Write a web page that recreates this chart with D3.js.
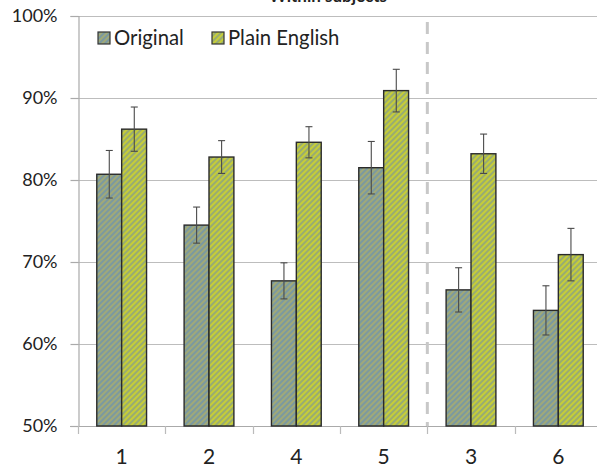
<!DOCTYPE html>
<html>
<head>
<meta charset="utf-8">
<script src="https://cdn.jsdelivr.net/npm/d3@7"></script>
<style>
  html, body { margin: 0; padding: 0; background: #fff; }
  svg { display: block; font-family: Lato, "Open Sans", sans-serif; }
</style>
</head>
<body>
<div id="chart"></div>
<script>
// Comprehension scores per passage, original vs. plain-English wording
const categories = ["1", "2", "4", "5", "3", "6"];
const seriesNames = ["Original", "Plain English"];
const originalValues = [80.7, 74.5, 67.7, 81.5, 66.6, 64.1];
const plainValues = [86.2, 82.8, 84.6, 90.9, 83.2, 70.9];
const originalErrors = [2.9, 2.2, 2.2, 3.2, 2.7, 3.0];
const plainErrors = [2.7, 2.0, 1.9, 2.6, 2.4, 3.2];
const yTicks = [50, 60, 70, 80, 90, 100];
const separatorAfter = "5";
const title = "Within subjects";

const W = 597, H = 468;
const margin = { left: 78, right: -5, top: 16, bottom: 42 };

const svg = d3.select("#chart").append("svg")
  .attr("width", W).attr("height", H);

// Diagonal hatch fills
const defs = svg.append("defs");
const fills = [
  { id: "hatch-orig", a: "#7b99a0", b: "#a0a978" },
  { id: "hatch-plain", a: "#c6cd38", b: "#98ac72" }
];
fills.forEach(f => {
  const p = defs.append("pattern")
    .attr("id", f.id)
    .attr("patternUnits", "userSpaceOnUse")
    .attr("width", 4).attr("height", 4)
    .attr("patternTransform", "rotate(45)");
  p.append("rect").attr("width", 2).attr("height", 4).attr("fill", f.a);
  p.append("rect").attr("x", 2).attr("width", 2).attr("height", 4).attr("fill", f.b);
});

const x = d3.scaleBand()
  .domain(categories)
  .range([margin.left, W - margin.right])
  .paddingInner(0.43)
  .paddingOuter(0.215);

const xs = d3.scaleBand()
  .domain(seriesNames)
  .range([0, x.bandwidth()]);

const y = d3.scaleLinear()
  .domain([50, 100])
  .range([H - margin.bottom, margin.top]);

// Title (sits at the very top edge)
svg.append("text")
  .attr("x", 328).attr("y", 1.5)
  .attr("text-anchor", "middle")
  .attr("font-size", 17)
  .attr("font-weight", "bold")
  .attr("fill", "#222")
  .text(title);

// Gridlines
svg.append("g")
  .selectAll("line")
  .data(yTicks.filter(t => t > 50))
  .join("line")
  .attr("x1", margin.left).attr("x2", W)
  .attr("y1", d => Math.round(y(d)) + 0.5)
  .attr("y2", d => Math.round(y(d)) + 0.5)
  .attr("stroke", "#bdbdbd").attr("stroke-width", 1.2);

// Y axis
const yAxis = d3.axisLeft(y)
  .tickValues(yTicks)
  .tickFormat(d => d + "%")
  .tickSize(8)
  .tickPadding(13);
const gy = svg.append("g")
  .attr("transform", `translate(${margin.left + 0.5},0)`)
  .call(yAxis);
gy.select(".domain").attr("stroke", "#aaa").attr("stroke-width", 1.2);
gy.selectAll(".tick line").attr("stroke", "#aaa").attr("stroke-width", 1.2);
gy.selectAll(".tick text")
  .attr("font-size", 18)
  .attr("fill", "#222")
  .attr("font-family", "Lato, sans-serif");

// X axis baseline and boundary ticks
const step = x.step();
const boundaries = categories.map(c => x(c) - step * x.paddingInner() / 2);
svg.append("line")
  .attr("x1", 70).attr("x2", W)
  .attr("y1", y(50) + 0.5).attr("y2", y(50) + 0.5)
  .attr("stroke", "#aaa").attr("stroke-width", 1.2);
svg.append("g")
  .selectAll("line")
  .data(boundaries)
  .join("line")
  .attr("x1", d => Math.round(d) + 0.5).attr("x2", d => Math.round(d) + 0.5)
  .attr("y1", y(50)).attr("y2", y(50) + 8)
  .attr("stroke", "#bbb").attr("stroke-width", 1.2);

// Category labels
svg.append("g")
  .selectAll("text")
  .data(categories)
  .join("text")
  .attr("x", d => x(d) + x.bandwidth() / 2)
  .attr("y", 464)
  .attr("text-anchor", "middle")
  .attr("font-size", 21)
  .attr("fill", "#222")
  .text(d => d);

// Separator between passage groups
const sepIdx = categories.indexOf(separatorAfter);
const sepX = x(categories[sepIdx]) + x.bandwidth() + step * x.paddingInner() / 2;
svg.append("line")
  .attr("x1", sepX).attr("x2", sepX)
  .attr("y1", y(100) + 6).attr("y2", y(50))
  .attr("stroke", "#c8c8c8").attr("stroke-width", 3)
  .attr("stroke-dasharray", "12,8");

// Bars
const rows = categories.map((c, i) => ({
  cat: c,
  vals: [
    { s: seriesNames[0], v: originalValues[i], e: originalErrors[i], fill: "url(#hatch-orig)" },
    { s: seriesNames[1], v: plainValues[i], e: plainErrors[i], fill: "url(#hatch-plain)" }
  ]
}));

const groups = svg.append("g")
  .selectAll("g")
  .data(rows)
  .join("g")
  .attr("transform", d => `translate(${x(d.cat)},0)`);

groups.selectAll("rect")
  .data(d => d.vals)
  .join("rect")
  .attr("x", d => xs(d.s))
  .attr("y", d => y(d.v))
  .attr("width", xs.bandwidth())
  .attr("height", d => y(50) - y(d.v))
  .attr("fill", d => d.fill)
  .attr("stroke", "#2a2a2a")
  .attr("stroke-width", 1.4);

// Error bars
const eb = groups.selectAll("g.err")
  .data(d => d.vals)
  .join("g")
  .attr("class", "err")
  .attr("transform", d => `translate(${Math.round(xs(d.s) + xs.bandwidth() / 2) + 0.5},0)`);
eb.append("line")
  .attr("y1", d => y(d.v + d.e)).attr("y2", d => y(d.v - d.e))
  .attr("stroke", "#4a4a4a").attr("stroke-width", 1.1);
eb.append("line")
  .attr("x1", -3.5).attr("x2", 3.5)
  .attr("y1", d => y(d.v + d.e)).attr("y2", d => y(d.v + d.e))
  .attr("stroke", "#4a4a4a").attr("stroke-width", 1.1);
eb.append("line")
  .attr("x1", -3.5).attr("x2", 3.5)
  .attr("y1", d => y(d.v - d.e)).attr("y2", d => y(d.v - d.e))
  .attr("stroke", "#4a4a4a").attr("stroke-width", 1.1);

// Legend
const legend = svg.append("g");
const legendItems = [
  { name: seriesNames[0], fill: "url(#hatch-orig)", x: 98 },
  { name: seriesNames[1], fill: "url(#hatch-plain)", x: 212 }
];
const li = legend.selectAll("g")
  .data(legendItems)
  .join("g")
  .attr("transform", d => `translate(${d.x},32)`);
li.append("rect")
  .attr("width", 12).attr("height", 12)
  .attr("fill", d => d.fill)
  .attr("stroke", "#333").attr("stroke-width", 1.2);
li.append("text")
  .attr("x", 16).attr("y", 12.5)
  .attr("font-size", 20.3)
  .attr("fill", "#222")
  .text(d => d.name);
</script>
</body>
</html>
